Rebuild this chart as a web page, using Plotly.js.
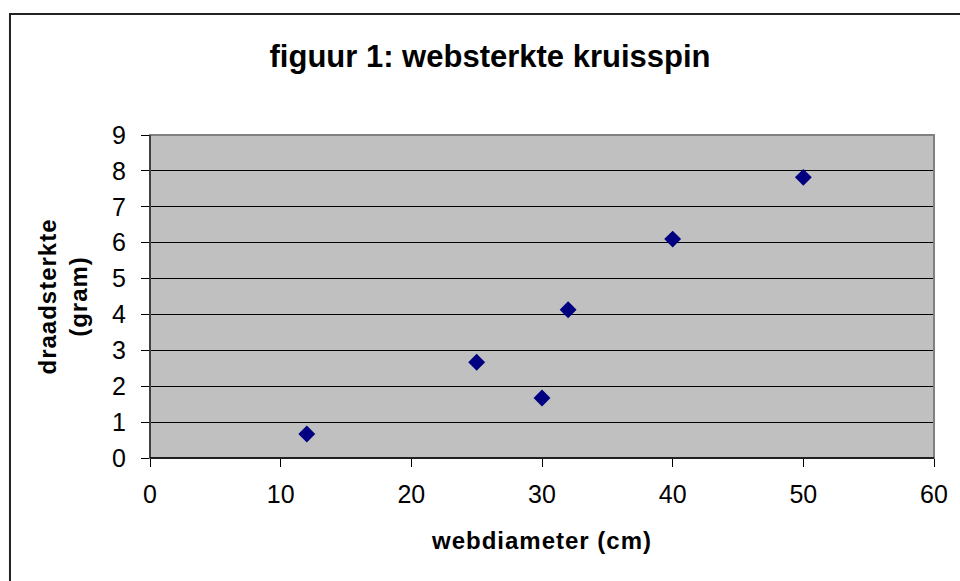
<!DOCTYPE html>
<html>
<head>
<meta charset="utf-8">
<script src="https://cdn.plot.ly/plotly-3.0.1.min.js"></script>
<style>
html,body{margin:0;padding:0;background:#fff;}
#chart{width:960px;height:581px;}
#chart .g-xtitle text, #chart .g-ytitle text{letter-spacing:1px;}
</style>
</head>
<body>
<div id="chart"></div>
<script>
const chartTitle = "figuur 1: websterkte kruisspin";
const xTitle = "webdiameter (cm)";
const yTitle = "draadsterkte<br>(gram)";
const webdiameter = [12, 25, 30, 32, 40, 50];
const draadsterkte = [0.67, 2.67, 1.67, 4.13, 6.1, 7.82];
const xTicks = [0, 10, 20, 30, 40, 50, 60];
const yTicks = [0, 1, 2, 3, 4, 5, 6, 7, 8, 9];

const font = "Liberation Sans, Arial, sans-serif";

const trace = {
  type: "scatter",
  mode: "markers",
  x: webdiameter,
  y: draadsterkte,
  marker: {symbol: "diamond", size: 13, color: "#000080", line: {width: 0}},
  hoverinfo: "x+y",
  showlegend: false
};

const layout = {
  width: 960, height: 581,
  margin: {l: 150, r: 26, t: 135, b: 123, pad: 0},
  paper_bgcolor: "#ffffff",
  plot_bgcolor: "#c0c0c0",
  font: {family: font, color: "#000"},
  showlegend: false,
  title: {
    text: "<b>" + chartTitle + "</b>",
    font: {family: font, size: 31, color: "#000"},
    x: 0.4337, xref: "paper", xanchor: "center",
    y: 0.903, yref: "container", yanchor: "middle"
  },
  xaxis: {
    range: [0, 60], tickvals: xTicks, ticktext: xTicks.map(String),
    showgrid: false, zeroline: false,
    showline: true, linecolor: "#000", linewidth: 1,
    ticks: "outside", ticklen: 8, tickcolor: "#000", tickwidth: 1,
    tickfont: {family: font, size: 25, color: "#000"},
    ticklabelstandoff: 6,
    title: {text: "<b>" + xTitle + "</b>", font: {family: font, size: 24, color: "#000"}, standoff: 25},
    fixedrange: true
  },
  yaxis: {
    range: [0, 9], tickvals: yTicks, ticktext: yTicks.map(String),
    showgrid: true, gridcolor: "#000", gridwidth: 1,
    zeroline: false,
    showline: true, linecolor: "#000", linewidth: 1,
    ticks: "outside", ticklen: 8, tickcolor: "#000", tickwidth: 1,
    tickfont: {family: font, size: 25, color: "#000"},
    ticklabelstandoff: 10,
    title: {text: "<b>" + yTitle + "</b>", font: {family: font, size: 24, color: "#000"}, standoff: 17},
    fixedrange: true
  },
  shapes: [
    {type: "rect", xref: "paper", yref: "paper", x0: 0, x1: 1, y0: 0, y1: 1,
     line: {color: "#808080", width: 2}, fillcolor: "rgba(0,0,0,0)", layer: "above"},
    {type: "line", xref: "paper", yref: "paper", x0: 0, x1: 0, y0: 0, y1: 1,
     line: {color: "#000", width: 1}, layer: "above"},
    {type: "line", xref: "paper", yref: "paper", x0: 0, x1: 1, y0: 0, y1: 0,
     line: {color: "#000", width: 1.5}, layer: "above"},
    {type: "rect", xref: "paper", yref: "paper", x0: -0.1786, x1: 1.2, y0: -0.6, y1: 1.3746,
     line: {color: "#222", width: 2}, fillcolor: "rgba(0,0,0,0)", layer: "above"}
  ]
};

Plotly.newPlot("chart", [trace], layout, {displayModeBar: false, staticPlot: false});
</script>
</body>
</html>
